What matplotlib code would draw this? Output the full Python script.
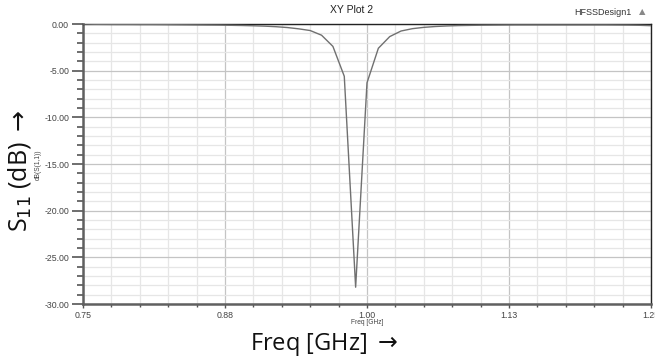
import numpy as np
import matplotlib.pyplot as plt
from matplotlib.ticker import MultipleLocator

# S11 sweep (0.01 GHz steps)
freq = np.round(np.arange(0.75, 1.2501, 0.01), 2)
s11_db = [
    -0.00, -0.03, -0.04, -0.05, -0.05, -0.06, -0.06, -0.07, -0.08, -0.09,
    -0.10, -0.11, -0.12, -0.14, -0.16, -0.19, -0.23, -0.29, -0.38, -0.52,
    -0.70, -1.20, -2.40, -5.60, -28.20, -6.30, -2.60, -1.35, -0.75, -0.50,
    -0.36, -0.27, -0.21, -0.17, -0.15, -0.13, -0.12, -0.11, -0.10, -0.10,
    -0.10, -0.10, -0.10, -0.10, -0.10, -0.10, -0.10, -0.11, -0.12, -0.14,
    -0.18,
]

x_ticks = [0.75, 0.875, 1.0, 1.125, 1.25]
x_labels = ["0.75", "0.88", "1.00", "1.13", "1.25"]
y_ticks = [0, -5, -10, -15, -20, -25, -30]
y_labels = ["0.00", "-5.00", "-10.00", "-15.00", "-20.00", "-25.00", "-30.00"]

small = ["Liberation Sans Narrow", "Liberation Sans", "DejaVu Sans"]
big = ["Open Sans", "DejaVu Sans"]

fig = plt.figure(figsize=(6.55, 3.62), dpi=100)
ax = fig.add_axes([0.1267, 0.1602, 0.8672, 0.7735])

ax.plot(freq, s11_db, color="#707070", lw=1.0, zorder=3)

ax.set_xlim(0.75, 1.25)
ax.set_ylim(-30, 0)

ax.set_xticks(x_ticks)
ax.set_xticklabels(x_labels, fontsize=6.3, family=small, color="#444444")
ax.xaxis.set_minor_locator(MultipleLocator(0.025))
ax.set_yticks(y_ticks)
ax.set_yticklabels(y_labels, fontsize=6.3, family=small, color="#444444")
ax.yaxis.set_minor_locator(MultipleLocator(1))

ax.grid(which="major", color="#c4c4c4", lw=0.9)
ax.grid(which="minor", color="#e6e6e6", lw=0.9)
ax.set_axisbelow(True)

ax.tick_params(axis="y", which="major", length=8, width=1.2, color="#555555", pad=2)
ax.tick_params(axis="y", which="minor", length=4, width=1.2, color="#555555")
ax.tick_params(axis="x", which="major", length=3, width=1, color="#555555", pad=2)
ax.tick_params(axis="x", which="minor", length=2, width=1, color="#555555")

for side in ["left", "bottom"]:
    ax.spines[side].set_color("#606060")
    ax.spines[side].set_linewidth(1.8)
for side in ["top", "right"]:
    ax.spines[side].set_color("#222222")
    ax.spines[side].set_linewidth(1.0)

# small HFSS style labels
fig.text(0.536, 0.972, "XY Plot 2", ha="center", va="center", fontsize=7.5, family=small, color="#222222")
fig.text(0.92, 0.965, "HFSSDesign1", ha="center", va="center", fontsize=6.5, family=small, color="#333333")
fig.text(0.981, 0.968, "\u25b2", ha="center", va="center", fontsize=6, color="#888888")
fig.text(0.059, 0.545, "dB(S(1,1))", ha="center", va="center", rotation=90, fontsize=4.8, family=small, color="#444444")
fig.text(0.5605, 0.108, "Freq [GHz]", ha="center", va="center", fontsize=4.8, family=small, color="#444444")

# large annotated axis titles
fig.text(0.03, 0.53, "S$_{11}$ (dB) $\\rightarrow$", ha="center", va="center", rotation=90, fontsize=18, family=big, color="#111111")
fig.text(0.495, 0.047, "Freq [GHz] $\\rightarrow$", ha="center", va="center", fontsize=17, family=big, color="#111111")

fig.savefig("out.png", dpi=100)
